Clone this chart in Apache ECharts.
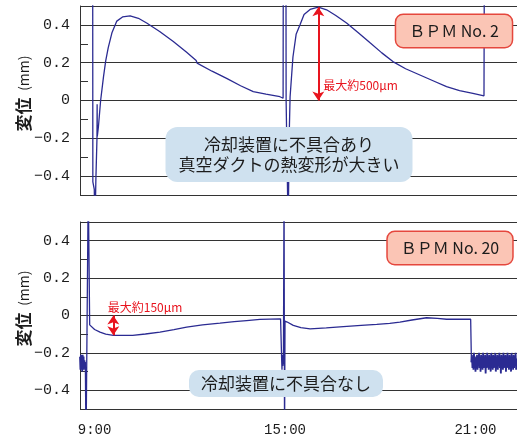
<!DOCTYPE html>
<html>
<head>
<meta charset="utf-8">
<script src="https://cdn.jsdelivr.net/npm/echarts@6/dist/echarts.min.js"></script>
<style>
html, body { margin: 0; padding: 0; background: #fff; }
#chart { width: 517px; height: 441px; }
</style>
</head>
<body>
<div id="chart"></div>
<script>
// 横軸は時刻 (時), 縦軸は変位 (mm)
const xMin = 8.54;
const xMax = 22.31;
const timeTicks = [9, 15, 21];
const yTicks = [-0.4, -0.2, 0, 0.2, 0.4];

// BPM No.2 : [時刻, 変位]
const bpm2 = [
  [8.94, 0.7], [8.945, -0.43], [8.99, -0.47], [9.01, -0.7],
  [9.04, -0.42], [9.075, -0.2], [9.08, -0.02], [9.085, -0.19],
  [9.12, -0.14], [9.19, 0.0], [9.28, 0.125], [9.35, 0.21], [9.43, 0.28],
  [9.55, 0.36], [9.70, 0.42], [9.88, 0.442], [10.12, 0.448], [10.38, 0.435],
  [10.64, 0.41], [11.05, 0.365], [11.48, 0.312], [11.9, 0.255], [12.2, 0.212],
  [12.23, 0.198], [12.7, 0.155], [13.16, 0.117], [13.6, 0.078], [14.0, 0.047],
  [14.4, 0.034], [14.84, 0.02], [14.94, 0.012], [14.945, 0.7], [15.03, 0.7],
  [15.035, 0.0], [15.10, -0.7], [15.13, -0.2], [15.16, 0.02], [15.25, 0.23],
  [15.35, 0.35], [15.47, 0.40], [15.6, 0.455], [15.79, 0.482], [16.05, 0.494],
  [16.31, 0.48], [16.6, 0.45], [16.94, 0.41], [17.3, 0.36], [17.68, 0.305],
  [18.05, 0.252], [18.4, 0.206], [18.8, 0.168], [19.25, 0.135], [19.7, 0.102],
  [20.09, 0.073], [20.5, 0.052], [20.92, 0.038], [21.27, 0.025], [21.28, 0.7]
];

// BPM No.20 : 左端のノイズ部 (8.54時から0.014時おき)
const bpm20NoiseLeft = [-0.22, -0.29, -0.21, -0.28, -0.23, -0.30, -0.21, -0.27, -0.22, -0.29, -0.24, -0.28, -0.25];
const noiseLeftStart = 8.54;
const noiseLeftStep = 0.014;

// BPM No.20 : [時刻, 変位]
const bpm20 = [
  [8.708, -0.25], [8.73, -0.7], [8.79, -0.7], [8.80, 0.7], [8.83, 0.7],
  [8.845, -0.05], [8.9, -0.06], [9.0, -0.075], [9.17, -0.089], [9.35, -0.1],
  [9.59, -0.106], [10.2, -0.106], [10.6, -0.099], [11.06, -0.089], [11.5, -0.075],
  [11.9, -0.062], [12.4, -0.05], [12.95, -0.041], [13.4, -0.033], [13.79, -0.027],
  [14.21, -0.021], [14.86, -0.018], [14.88, -0.02], [14.895, -0.24], [14.905, -0.29],
  [14.915, -0.21], [14.93, -0.27], [14.95, -0.24], [14.97, 0.7], [14.985, -0.7],
  [15.0, -0.03], [15.07, -0.035], [15.26, -0.053], [15.5, -0.065], [15.79, -0.071],
  [16.3, -0.066], [16.84, -0.059], [17.4, -0.053], [17.89, -0.048], [18.3, -0.042],
  [18.62, -0.035], [19.0, -0.024], [19.46, -0.012], [19.8, -0.015], [20.09, -0.02],
  [20.5, -0.02], [20.85, -0.02], [20.874, -0.25]
];

// BPM No.20 : 右端のノイズ部 (20.874時から0.016時おき)
const bpm20NoiseRight = [
  -0.25, -0.21, -0.28, -0.23, -0.29, -0.20, -0.27, -0.22, -0.30, -0.24,
  -0.27, -0.21, -0.29, -0.22, -0.26, -0.20, -0.28, -0.23, -0.30, -0.21,
  -0.27, -0.22, -0.29, -0.20, -0.28, -0.24, -0.27, -0.21, -0.31, -0.22,
  -0.28, -0.20, -0.27, -0.23, -0.29, -0.21, -0.28, -0.22, -0.30, -0.20,
  -0.26, -0.23, -0.29, -0.21, -0.28, -0.22, -0.27, -0.20, -0.30, -0.24,
  -0.28, -0.21, -0.29, -0.22, -0.27, -0.20, -0.28, -0.23, -0.31, -0.21,
  -0.27, -0.22, -0.29, -0.20, -0.28, -0.23, -0.26, -0.21, -0.30, -0.22,
  -0.28, -0.20, -0.27, -0.24, -0.29, -0.21, -0.28, -0.22, -0.30, -0.20,
  -0.27, -0.23, -0.29, -0.21, -0.28, -0.22, -0.27, -0.20, -0.29, -0.23, -0.28
];
const noiseRightStart = 20.874;
const noiseRightStep = 0.016;

// 最大変位の矢印 [時刻, 始点, 終点]
const arrow2 = [16.05, 0, 0.494];
const arrow20 = [9.59, 0, -0.106];

const lineColor = '#2b2b92';
const red = '#e8141e';
const gridDark = '#333333';
const clear = 'rgba(0,0,0,0)';
const monoFont = 'Liberation Mono';
// -0.5 から 0.5 まで 0.1 ごとの線: 0.2 ごとと上下の枠だけ描く
const splitColors = [gridDark, gridDark, clear, gridDark, clear, gridDark, clear, gridDark, clear, gridDark, gridDark];

const noiseLeftData = bpm20NoiseLeft.map((v, i) => [noiseLeftStart + i * noiseLeftStep, v]);
const noiseRightData = bpm20NoiseRight.map((v, i) => [noiseRightStart + i * noiseRightStep, v]);

const chart = echarts.init(document.getElementById('chart'));

const makeYAxis = (gridIndex) => ({
  gridIndex: gridIndex,
  type: 'value',
  min: -0.5,
  max: 0.5,
  interval: 0.1,
  name: '{a|変位}  {b|(mm)}',
  nameLocation: 'middle',
  nameRotate: 90,
  nameGap: 48,
  nameMoveOverlap: false,
  nameTextStyle: {
    padding: [0, 0, 0, 14],
    rich: {
      a: { fontSize: 17, fontFamily: 'Noto Sans CJK JP', color: '#1c1c1c', fontWeight: 'bold' },
      b: { fontSize: 14, fontFamily: 'Noto Sans CJK JP', color: '#1c1c1c' }
    }
  },
  axisLine: { show: true, lineStyle: { color: gridDark, width: 1 } },
  axisTick: { show: true, inside: true, length: 8, lineStyle: { color: gridDark } },
  axisLabel: {
    customValues: yTicks,
    margin: 10,
    fontSize: 15,
    fontFamily: monoFont,
    color: '#1c1c1c',
    formatter: (v) => (v === 0 ? '0' : (v < 0 ? '−' : '') + Math.abs(v).toFixed(1))
  },
  splitLine: { show: true, lineStyle: { color: splitColors, width: 1 } }
});

const makeXAxis = (gridIndex, showLabel) => ({
  gridIndex: gridIndex,
  type: 'value',
  min: xMin,
  max: xMax,
  axisLine: { show: false },
  axisTick: { show: false },
  splitLine: { show: false },
  axisLabel: {
    show: showLabel,
    customValues: timeTicks,
    margin: 14,
    fontSize: 14,
    fontFamily: monoFont,
    color: '#1c1c1c',
    formatter: (v) => v + ':00'
  }
});

const arrowLine = (a) => ({
  silent: true,
  symbol: ['arrow', 'arrow'],
  symbolSize: [9, 9],
  lineStyle: { color: red, width: 2, type: 'solid' },
  itemStyle: { color: red },
  label: { show: false },
  data: [[{ coord: [a[0], a[1]] }, { coord: [a[0], a[2]] }]]
});

const noteLabel = (coord, text) => ({
  silent: true,
  symbol: 'circle',
  symbolSize: 1,
  itemStyle: { color: clear },
  label: {
    show: true,
    position: 'right',
    distance: 0,
    formatter: text,
    color: red,
    fontSize: 12,
    fontFamily: 'Noto Sans CJK JP'
  },
  data: [{ coord: coord }]
});

const lineSeries = (axisIndex, data, width, extra) => Object.assign({
  type: 'line',
  xAxisIndex: axisIndex,
  yAxisIndex: axisIndex,
  data: data,
  showSymbol: false,
  symbol: 'none',
  lineStyle: { color: lineColor, width: width }
}, extra);

const boxText = (x, y, text, bg, border, opts) => ({
  type: 'text',
  x: x,
  y: y,
  z: 100,
  style: Object.assign({
    text: text,
    fill: '#1c1c1c',
    font: '17px "Noto Sans CJK JP"',
    align: 'center',
    verticalAlign: 'top',
    backgroundColor: bg,
    borderColor: border,
    borderWidth: border ? 1.5 : 0,
    borderRadius: 9,
    lineHeight: 20
  }, opts)
});

const option = {
  animation: false,
  grid: [
    { left: 80, right: 0, top: 6, height: 189, outerBoundsMode: 'none' },
    { left: 80, right: 0, top: 222, height: 187, outerBoundsMode: 'none' }
  ],
  xAxis: [makeXAxis(0, false), makeXAxis(1, true)],
  yAxis: [makeYAxis(0), makeYAxis(1)],
  series: [
    lineSeries(0, bpm2, 1.3, {
      markLine: arrowLine(arrow2),
      markPoint: noteLabel([16.19, 0.082], '最大約500μm')
    }),
    lineSeries(1, bpm20, 1.3, {
      markLine: arrowLine(arrow20),
      markPoint: noteLabel([9.40, 0.044], '最大約150μm')
    }),
    lineSeries(1, noiseLeftData, 1.8),
    lineSeries(1, noiseRightData, 1.8)
  ],
  graphic: [
    boxText(454, 15, 'ＢＰＭ No. 2', '#fbc5b5', '#e5473d', { font: '16px "Noto Sans CJK JP"', padding: [7, 13, 7, 13], lineHeight: 18, borderRadius: 7 }),
    boxText(450, 232, 'ＢＰＭ No. 20', '#fbc5b5', '#e5473d', { font: '16px "Noto Sans CJK JP"', padding: [7, 13, 7, 13], lineHeight: 18, borderRadius: 7 }),
    boxText(289, 127, '冷却装置に不具合あり\n真空ダクトの熱変形が大きい', '#cfe1ef', null, { padding: [8, 13, 7, 13], borderRadius: 12 }),
    boxText(286, 370, '冷却装置に不具合なし', '#cfe1ef', null, { padding: [4, 12, 3, 12], borderRadius: 10 })
  ]
};

chart.setOption(option);
</script>
</body>
</html>
